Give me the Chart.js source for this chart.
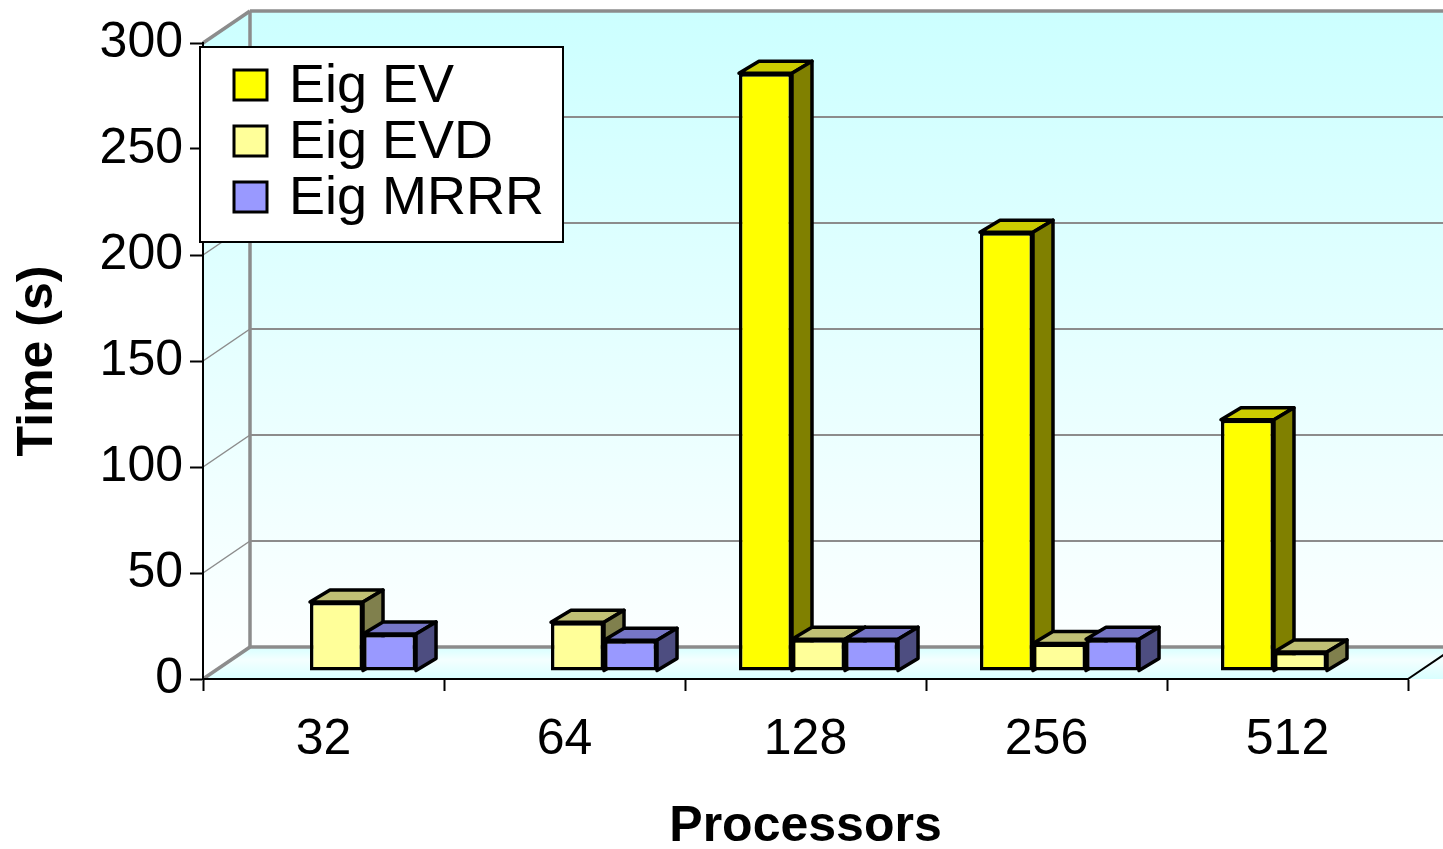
<!DOCTYPE html>
<html>
<head>
<meta charset="utf-8">
<title>Eig timings</title>
<script src="https://cdn.jsdelivr.net/npm/chart.js@4.4.1/dist/chart.umd.min.js"></script>
<style>
  html, body { margin: 0; padding: 0; background: #fff; }
</style>
</head>
<body>
<canvas id="chart" width="1443" height="849"></canvas>
<script>
const categories = ["32", "64", "128", "256", "512"];
const eigEV = [null, null, 282, 207, 118.5];
const eigEVD = [32.5, 23, 15, 13, 9];
const eigMRRR = [17.5, 14.5, 15, 15, null];
const yTicks = [0, 50, 100, 150, 200, 250, 300];

// fake 3d: walls/floor depth, bar offset from the front plane, bar depth
const WALL_DX = 47, WALL_DY = -32;
const BAR_SHIFT_X = 13, BAR_SHIFT_Y = -8;
const BAR_DX = 20, BAR_DY = -12;
const FONT = '"Liberation Sans", Arial, sans-serif';

const walls = {
  id: "walls",
  beforeDraw(chart) {
    const { ctx, chartArea: a, scales } = chart;
    const y = scales.y;
    const W = chart.width;
    const y0 = y.getPixelForValue(0);
    const yTop = y.getPixelForValue(300);
    const bx = a.left + WALL_DX;

    ctx.save();
    // back wall + left wall
    const g = ctx.createLinearGradient(0, yTop + WALL_DY, 0, y0 + WALL_DY);
    g.addColorStop(0, "#ccffff");
    g.addColorStop(1, "#fcffff");
    ctx.fillStyle = g;
    ctx.fillRect(bx, yTop + WALL_DY, W - bx, y0 - yTop);
    ctx.beginPath();
    ctx.moveTo(a.left, yTop);
    ctx.lineTo(bx, yTop + WALL_DY);
    ctx.lineTo(bx, y0 + WALL_DY);
    ctx.lineTo(a.left, y0);
    ctx.closePath();
    ctx.fill();

    // floor
    const f = ctx.createLinearGradient(0, y0 + WALL_DY, 0, y0);
    f.addColorStop(0, "#d6ffff");
    f.addColorStop(0.4, "#f4ffff");
    f.addColorStop(1, "#d9ffff");
    ctx.fillStyle = f;
    ctx.beginPath();
    ctx.moveTo(a.left, y0);
    ctx.lineTo(bx, y0 + WALL_DY);
    ctx.lineTo(W + 10, y0 + WALL_DY);
    ctx.lineTo(W + 10, y0);
    ctx.closePath();
    ctx.fill();

    // grid on the walls
    ctx.strokeStyle = "#8c8c8c";
    yTicks.forEach((v) => {
      const yy = y.getPixelForValue(v);
      const edge = v === 0 || v === 300;
      ctx.lineWidth = edge ? 3.5 : 2;
      ctx.beginPath();
      ctx.moveTo(bx, yy + WALL_DY);
      ctx.lineTo(W, yy + WALL_DY);
      ctx.stroke();
      ctx.lineWidth = edge ? 3.5 : 1.5;
      ctx.beginPath();
      ctx.moveTo(a.left, yy);
      ctx.lineTo(bx, yy + WALL_DY);
      ctx.stroke();
    });
    ctx.lineWidth = 3.5;
    ctx.beginPath();
    ctx.moveTo(bx, yTop + WALL_DY);
    ctx.lineTo(bx, y0 + WALL_DY);
    ctx.stroke();

    // right edge of the floor
    ctx.strokeStyle = "#000";
    ctx.lineWidth = 2;
    ctx.beginPath();
    ctx.moveTo(a.right, y0);
    ctx.lineTo(a.right + WALL_DX, y0 + WALL_DY);
    ctx.stroke();
    ctx.restore();
  }
};

const bars3d = {
  id: "bars3d",
  beforeDatasetsDraw(chart) {
    const ctx = chart.ctx;
    ctx.save();
    ctx.translate(BAR_SHIFT_X, BAR_SHIFT_Y);
    ctx.lineWidth = 3.5;
    ctx.lineJoin = "round";
    ctx.strokeStyle = "#000";
    categories.forEach((c, i) => {
      chart.data.datasets.forEach((ds, d) => {
        if (ds.data[i] == null) return;
        const bar = chart.getDatasetMeta(d).data[i];
        const { x, y, base, width } = bar.getProps(["x", "y", "base", "width"], true);
        const l = x - width / 2;
        const r = x + width / 2;
        ctx.beginPath();
        ctx.moveTo(l, y);
        ctx.lineTo(l + BAR_DX, y + BAR_DY);
        ctx.lineTo(r + BAR_DX, y + BAR_DY);
        ctx.lineTo(r, y);
        ctx.closePath();
        ctx.fillStyle = ds.topColor;
        ctx.fill();
        ctx.stroke();
        ctx.beginPath();
        ctx.moveTo(r, y);
        ctx.lineTo(r + BAR_DX, y + BAR_DY);
        ctx.lineTo(r + BAR_DX, base + BAR_DY);
        ctx.lineTo(r, base);
        ctx.closePath();
        ctx.fillStyle = ds.sideColor;
        ctx.fill();
        ctx.stroke();
      });
    });
  },
  afterDatasetsDraw(chart) {
    chart.ctx.restore();
  }
};

const legendBox = {
  id: "legendBox",
  afterDraw(chart) {
    const ctx = chart.ctx;
    ctx.save();
    ctx.fillStyle = "#fff";
    ctx.fillRect(200, 47, 363, 195);
    ctx.strokeStyle = "#000";
    ctx.lineWidth = 2;
    ctx.strokeRect(200, 47, 363, 195);
    ctx.font = "54px " + FONT;
    ctx.textBaseline = "middle";
    chart.data.datasets.forEach((ds, d) => {
      const cy = 85 + d * 56;
      ctx.fillStyle = ds.backgroundColor;
      ctx.fillRect(234, cy - 15, 33, 30);
      ctx.lineWidth = 3;
      ctx.strokeRect(234, cy - 15, 33, 30);
      ctx.fillStyle = "#000";
      ctx.fillText(ds.label, 289, cy + 2);
    });
    ctx.restore();
  }
};

new Chart(document.getElementById("chart"), {
  type: "bar",
  data: {
    labels: categories,
    datasets: [
      { label: "Eig EV", data: eigEV, backgroundColor: "#ffff00", topColor: "#cccc00", sideColor: "#808000" },
      { label: "Eig EVD", data: eigEVD, backgroundColor: "#ffff99", topColor: "#c0c075", sideColor: "#80804d" },
      { label: "Eig MRRR", data: eigMRRR, backgroundColor: "#9999ff", topColor: "#7676c6", sideColor: "#4d4d80" }
    ].map((ds) => Object.assign(ds, {
      borderColor: "#000",
      borderWidth: 3.5,
      borderSkipped: false,
      categoryPercentage: 0.66,
      barPercentage: 1,
      clip: false
    }))
  },
  options: {
    responsive: false,
    animation: false,
    devicePixelRatio: 1,
    layout: { padding: { top: 43, right: 35, left: 0, bottom: 0 } },
    plugins: { legend: { display: false }, tooltip: { enabled: false } },
    scales: {
      x: {
        grid: { offset: true, drawOnChartArea: false, tickLength: 12, tickWidth: 2, tickColor: "#000" },
        border: { display: true, color: "#000", width: 2 },
        ticks: { color: "#000", font: { family: FONT, size: 50 }, padding: 19 },
        title: {
          display: true, text: "Processors", color: "#000", padding: { top: 0, bottom: -3 },
          font: { family: FONT, size: 50, weight: "bold", lineHeight: 1 }
        },
        afterFit(s) { s.height = 170; }
      },
      y: {
        min: 0,
        max: 300,
        afterBuildTicks(s) { s.ticks = yTicks.map((v) => ({ value: v })); },
        grid: { drawOnChartArea: false, tickLength: 13, tickWidth: 2, tickColor: "#000" },
        border: { display: true, color: "#000", width: 2 },
        ticks: { color: "#000", font: { family: FONT, size: 50 }, padding: 7 },
        title: {
          display: true, text: "Time (s)", color: "#000", padding: { top: 13, bottom: 0 },
          font: { family: FONT, size: 50, weight: "bold", lineHeight: 1 }
        },
        afterFit(s) { s.width = 203; }
      }
    }
  },
  plugins: [walls, bars3d, legendBox]
});
</script>
</body>
</html>
